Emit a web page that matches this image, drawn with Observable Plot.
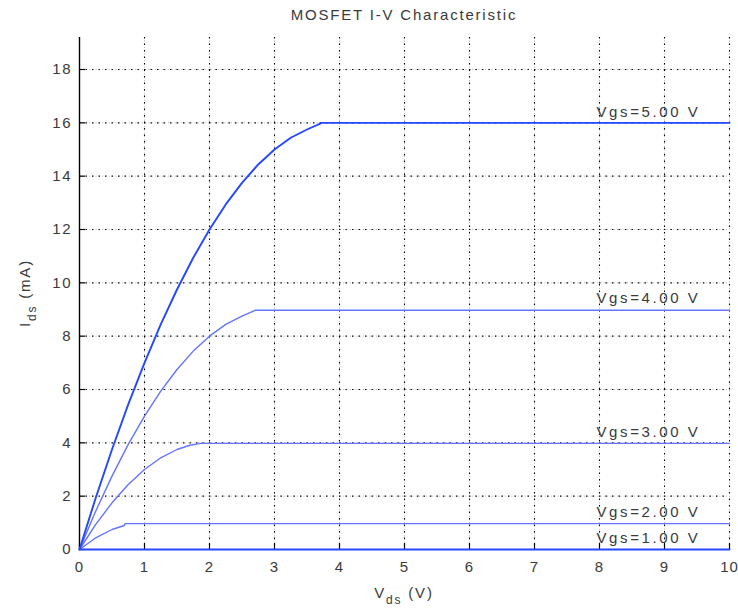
<!DOCTYPE html>
<html><head><meta charset="utf-8">
<script src="https://cdn.jsdelivr.net/npm/d3@7"></script>
<script src="https://cdn.jsdelivr.net/npm/@observablehq/plot@0.6"></script>
<style>
body{margin:0;background:#fff}
#chart svg{display:block;font-family:"Liberation Sans",Arial,Helvetica,sans-serif}
</style>
</head><body><div id="chart"></div>
<script>
// ---- data ----
const chartTitle = "MOSFET I-V Characteristic";
const xTicks = [0,1,2,3,4,5,6,7,8,9,10];
const yTicks = [0,2,4,6,8,10,12,14,16,18];
const curveNames = ["Vgs=5.00 V","Vgs=4.00 V","Vgs=3.00 V","Vgs=2.00 V","Vgs=1.00 V"];
const satCurrent = [16, 9, 4, 1, 0];

const vds5 = [0,0.25,0.5,0.75,1,1.25,1.5,1.75,2,2.25,2.5,2.75,3,3.25,3.5,3.73,10];
const ids5 = [0,1.94,3.75,5.44,7,8.44,9.75,10.94,12,12.94,13.75,14.44,15,15.44,15.75,16,16];
const vds4 = [0,0.25,0.5,0.75,1,1.25,1.5,1.75,2,2.25,2.5,2.7,10];
const ids4 = [0,1.44,2.75,3.94,5,5.94,6.75,7.44,8,8.44,8.75,8.97,8.97];
const vds3 = [0,0.25,0.5,0.75,1,1.25,1.5,1.7,1.86,10];
const ids3 = [0,0.94,1.75,2.44,3,3.44,3.75,3.91,3.98,3.98];
const vds2 = [0,0.25,0.5,0.69,0.7,10];
const ids2 = [0,0.44,0.75,0.9,0.97,0.97];
const vds1 = [0,10];
const ids1 = [0,0];

const allVds = [vds5, vds4, vds3, vds2, vds1];
const allIds = [ids5, ids4, ids3, ids2, ids1];

const rows = [];
curveNames.forEach((name, k) => {
  allVds[k].forEach((v, i) => rows.push({curve: name, vds: v, ids: allIds[k][i]}));
});
const labelRows = curveNames.map((name, k) => ({curve: name, ids: satCurrent[k]}));
const labelVds = 8;

// ---- styles ----
const W = 738, H = 611;
const mL = 79, mR = 9, mT = 37, mB = 62;
const font = 15, ls = "1.8px", txt = "#3a3a3a";
const strong = new Set(["Vgs=5.00 V","Vgs=1.00 V"]);

const gx = xTicks.filter(d => d > 0), gy = yTicks.filter(d => d > 0);

const plot = Plot.plot({
  width: W, height: H,
  marginLeft: mL, marginRight: mR, marginTop: mT, marginBottom: mB,
  style: {fontSize: font + "px", fontFamily: '"Liberation Sans",Arial,sans-serif', color: txt, background: "#fff", overflow: "visible"},
  x: {domain: [0, 10], ticks: xTicks},
  y: {domain: [0, 19.2], ticks: yTicks},
  marks: [
    Plot.ruleX(gx, {stroke: "#bdbdbd", strokeDasharray: "1.2,2.1"}),
    Plot.ruleY(gy, {stroke: "#bdbdbd", strokeDasharray: "1.2,2.1"}),
    Plot.ruleX(gx, {stroke: "#000", strokeDasharray: "1.4,5.1", strokeWidth: 1.1}),
    Plot.ruleY(gy, {stroke: "#000", strokeDasharray: "1.4,5.1", strokeWidth: 1.1}),
    Plot.ruleX([0], {stroke: "#000", strokeWidth: 1.4}),
    Plot.ruleY([0], {stroke: "#000", strokeWidth: 1.2}),
    Plot.tickX(xTicks, {x: d => d, stroke: "#000", insetTop: H - mT - mB - 6, strokeWidth: 1.2}),
    Plot.tickY(yTicks, {y: d => d, stroke: "#000", insetRight: W - mL - mR - 6, strokeWidth: 1.2}),
    Plot.line(rows.filter(r => !strong.has(r.curve)), {x: "vds", y: "ids", z: "curve", stroke: "#6474ff", strokeWidth: 1.4}),
    Plot.line(rows.filter(r => strong.has(r.curve)), {x: "vds", y: "ids", z: "curve", stroke: "#2447ff", strokeWidth: 1.9}),
    Plot.text(labelRows, {x: () => labelVds, y: "ids", text: "curve", textAnchor: "start", dx: -3, dy: -11, fill: txt, fontSize: font, className: "curve-label"}),
    Plot.axisX({ticks: xTicks, tickSize: 0, tickPadding: 12, tickFormat: d => String(d), label: null, fill: txt, className: "xt"}),
    Plot.axisY({ticks: yTicks, tickSize: 0, tickPadding: 7, tickFormat: d => String(d), label: null, fill: txt})
  ]
});
d3.select(plot).selectAll("text").attr("letter-spacing", ls);
d3.select(plot).selectAll(".curve-label text").attr("letter-spacing", "2.6px");
d3.select(plot).selectAll(".xt text").attr("letter-spacing", "1px");
document.getElementById("chart").append(plot);

const svg = d3.select(plot);
const px = (mL + W - mR) / 2, py = (mT + H - mB) / 2;
svg.append("text").attr("x", px).attr("y", 20).attr("text-anchor", "middle")
  .attr("font-size", font).attr("fill", txt).attr("letter-spacing", ls).text(chartTitle);

const xl = svg.append("text").attr("x", px).attr("y", 598).attr("text-anchor", "middle")
  .attr("font-size", font).attr("fill", txt).attr("letter-spacing", ls);
xl.append("tspan").text("V");
xl.append("tspan").attr("dy", 6).attr("font-size", 12).text("ds");
xl.append("tspan").attr("dy", -6).text(" (V)");

const yl = svg.append("text").attr("transform", `translate(30,${py}) rotate(-90)`).attr("text-anchor", "middle")
  .attr("font-size", font).attr("fill", txt).attr("letter-spacing", ls);
yl.append("tspan").text("I");
yl.append("tspan").attr("dy", 6).attr("font-size", 12).text("ds");
yl.append("tspan").attr("dy", -6).text(" (mA)");
</script>
</body></html>
